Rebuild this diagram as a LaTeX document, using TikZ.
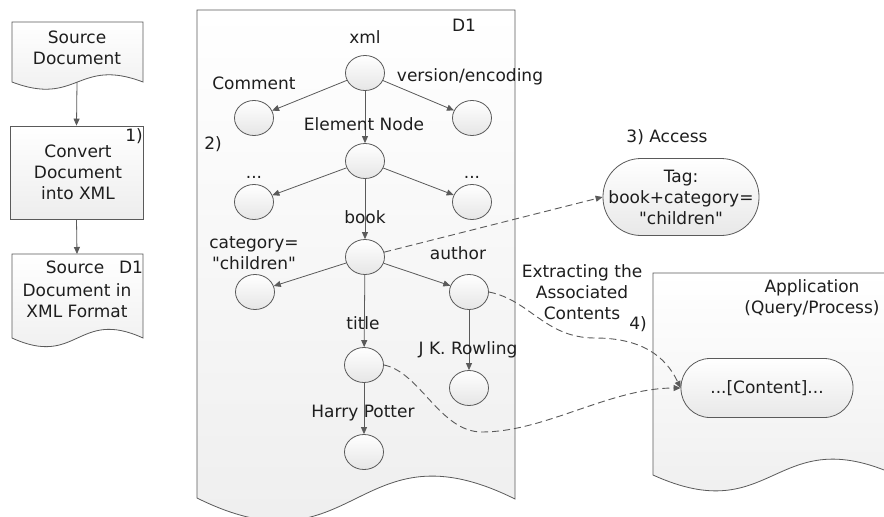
\documentclass[tikz,border=0pt]{standalone}
\usepackage{fontspec}
\setmainfont{DejaVu Sans}[Ligatures=TeXOff]
\usetikzlibrary{shapes.geometric,arrows.meta}
\definecolor{edge}{HTML}{5A5A5A}
\definecolor{ink}{HTML}{1E1E1E}
\definecolor{paperlo}{HTML}{EDEDED}

\begin{document}
\begin{tikzpicture}[x=1pt,y=-1pt,
  font=\fontsize{17}{21}\selectfont, text=ink,
  lbl/.style={inner sep=0pt, align=center},
  leaf/.style={ellipse, draw=edge, line width=0.8pt, minimum width=39pt,
    minimum height=35pt, inner sep=0pt, top color=white, bottom color=gray!20},
  sheet/.style={draw=edge, line width=0.8pt, top color=white, bottom color=paperlo},
  stadium/.style={draw=edge, line width=0.8pt, top color=white, bottom color=gray!18,
    inner sep=0pt, align=center},
  tip/.style={draw=edge, line width=0.8pt, -{Triangle[length=7pt,width=6pt]}},
  dashlink/.style={draw=edge, line width=0.9pt, dash pattern=on 7pt off 4pt,
    -{Triangle[length=7pt,width=6pt]}}]

\useasboundingbox (0,0) rectangle (884,517);
\fill[white] (0,0) rectangle (884,517);

% ---- left column: conversion flow ----
\path[sheet] (12,22) -- (143,22) -- (143,82)
  .. controls (77.5,57) and (77.5,107) .. (12,82) -- cycle;
\node[lbl] (srcdoc) at (77,48) {Source\\Document};
\coordinate (srcbot) at (77,82);

\node[draw=edge, line width=0.8pt, top color=white, bottom color=paperlo,
  minimum width=133pt, minimum height=93pt, inner sep=0pt] (convert) at (76.5,172.5) {};
\node[lbl] (convtxt) at (78,172) {Convert\\Document\\into XML};
\node[lbl] (step1) at (134,136) {1)};

\path[sheet] (12,254) -- (143,254) -- (143,338)
  .. controls (77.5,308) and (77.5,368) .. (12,338) -- cycle;
\coordinate (xmldoctop) at (77,254);
\node[lbl] (xmlsrc) at (75,267) {Source};
\node[lbl] (xmlsrcid) at (131,267) {D1};
\node[lbl] (xmldoc) at (77,301) {Document in\\XML Format};

\draw[tip] (srcbot) -- (convert.north);
\draw[tip] (convert.south) -- (xmldoctop);

% ---- D1 document with its XML tree ----
\path[sheet] (197,10) -- (515,10) -- (515,499)
  .. controls (356,420) and (356,577) .. (197,498) -- cycle;
\node[lbl] (d1) at (464,25) {D1};

\node[leaf] (xml) at (365,73) {};
\node[leaf] (comment) at (254,118) {};
\node[leaf] (version) at (472,118) {};
\node[leaf] (element) at (365,161) {};
\node[leaf] (dotsl) at (254,202) {};
\node[leaf] (dotsr) at (472,202) {};
\node[leaf] (book) at (365,257) {};
\node[leaf] (category) at (255,292) {};
\node[leaf] (author) at (469,292) {};
\node[leaf] (title) at (364,365) {};
\node[leaf] (rowling) at (469,388) {};
\node[leaf] (potter) at (364,452) {};

\draw[tip] (xml) -- (comment);
\draw[tip] (xml) -- (version);
\draw[tip] (xml) -- (element);
\draw[tip] (element) -- (dotsl);
\draw[tip] (element) -- (dotsr);
\draw[tip] (element) -- (book);
\draw[tip] (book) -- (category);
\draw[tip] (book) -- (author);
\draw[tip] (book) -- (title);
\draw[tip] (author) -- (rowling);
\draw[tip] (title) -- (potter);

\node[lbl] (lxml) at (365,37) {xml};
\node[lbl] (lcomment) at (254,83) {Comment};
\node[lbl] (lversion) at (470,77) {version/encoding};
\node[lbl] (lelement) at (364,124) {Element Node};
\node[lbl] (step2) at (213,144) {2)};
\node[lbl] (ldotsl) at (254,177) {...};
\node[lbl] (ldotsr) at (472,177) {...};
\node[lbl] (lbook) at (365,217) {book};
\node[lbl] (lcategory) at (254,253) {category=\\"children"};
\node[lbl] (lauthor) at (458,253) {author};
\node[lbl] (ltitle) at (363,323) {title};
\node[lbl] (lrowling) at (468,350) {J K. Rowling};
\node[lbl] (lpotter) at (363,413) {Harry Potter};

% ---- access tag ----
\node[lbl] (step3) at (667,137) {3) Access};
\node[stadium, rounded corners=38pt, minimum width=156pt, minimum height=77pt]
  (tag) at (681,197) {Tag:\\book+category=\\"children"};

% ---- application ----
\path[sheet] (653,273) -- (896,273) -- (896,475)
  .. controls (774,420) and (774,530) .. (653,475) -- cycle;
\node[lbl] (app) at (812,298) {Application\\(Query/Process)};
\node[stadium, rounded corners=29pt, minimum width=172pt, minimum height=59pt]
  (content) at (767,388) {...[Content]...};

\node[lbl] (extract) at (582,292) {Extracting the\\Associated\\Contents};
\node[lbl] (step4) at (638,324) {4)};

% ---- dashed access / extraction links ----
\draw[dashlink] (book) -- (tag.west);
\draw[dashlink] (author.east) .. controls (530,300) and (545,338) .. (595,338)
  .. controls (640,338) and (665,355) .. (content.west);
\draw[dashlink] (title.east) .. controls (420,372) and (440,432) .. (482,432)
  .. controls (545,432) and (610,388) .. (content.west);
\end{tikzpicture}
\end{document}
